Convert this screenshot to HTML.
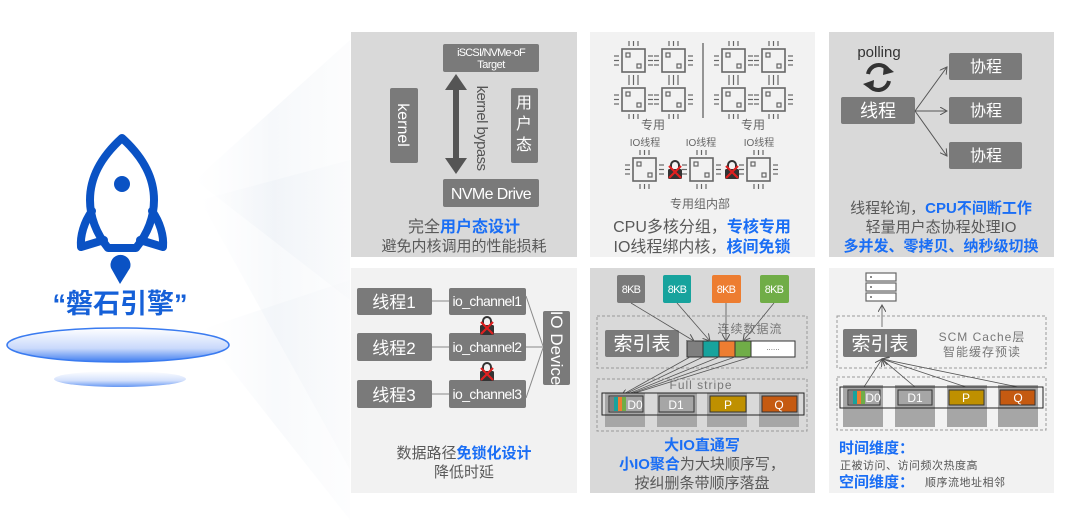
<!DOCTYPE html>
<html><head><meta charset="utf-8">
<style>
html,body{margin:0;padding:0;background:#fff;}
svg{display:block;font-family:"Liberation Sans","Noto Sans CJK SC",sans-serif;}
</style></head>
<body>
<svg width="1080" height="527" viewBox="0 0 1080 527" xmlns="http://www.w3.org/2000/svg">
<defs>
  <linearGradient id="beam" x1="0" y1="0" x2="1" y2="0">
    <stop offset="0" stop-color="#eef2f7" stop-opacity="0"/>
    <stop offset="0.5" stop-color="#e6ecf3" stop-opacity="0.9"/>
    <stop offset="1" stop-color="#f3f5f8" stop-opacity="0.6"/>
  </linearGradient>
  <linearGradient id="disc" x1="0" y1="0" x2="0" y2="1">
    <stop offset="0" stop-color="#ffffff"/>
    <stop offset="0.6" stop-color="#c9d9fb"/>
    <stop offset="1" stop-color="#3f7df0"/>
  </linearGradient>
  <g id="chip">
    <rect x="0" y="0" width="23" height="23" fill="none" stroke="#666" stroke-width="1.6"/>
    <rect x="4" y="4" width="4" height="4" fill="none" stroke="#666" stroke-width="1.2"/>
    <rect x="15" y="15" width="4" height="4" fill="none" stroke="#666" stroke-width="1.2"/>
    <g stroke="#666" stroke-width="1.2">
      <line x1="7" y1="-3" x2="7" y2="-8"/><line x1="11.5" y1="-3" x2="11.5" y2="-8"/><line x1="16" y1="-3" x2="16" y2="-8"/>
      <line x1="7" y1="26" x2="7" y2="31"/><line x1="11.5" y1="26" x2="11.5" y2="31"/><line x1="16" y1="26" x2="16" y2="31"/>
      <line x1="-3" y1="7" x2="-8" y2="7"/><line x1="-3" y1="11.5" x2="-8" y2="11.5"/><line x1="-3" y1="16" x2="-8" y2="16"/>
      <line x1="26" y1="7" x2="31" y2="7"/><line x1="26" y1="11.5" x2="31" y2="11.5"/><line x1="26" y1="16" x2="31" y2="16"/>
    </g>
  </g>
  <g id="lock">
    <path d="M-4,-1 v-4 a4,4 0 0 1 8,0 v4" fill="none" stroke="#333" stroke-width="2"/>
    <rect x="-7" y="-1" width="14" height="10" rx="1.5" fill="#333"/>
    <path d="M-6,-4 L6,8 M6,-4 L-6,8" stroke="#e02020" stroke-width="2.2"/>
  </g>
  <marker id="ah" markerWidth="8" markerHeight="8" refX="7" refY="4" orient="auto" markerUnits="userSpaceOnUse">
    <path d="M0,0 L7,4 L0,8" fill="none" stroke="#555" stroke-width="1"/>
  </marker>
</defs>

<!-- beams -->
<polygon points="195,180 350,40 350,300" fill="url(#beam)" opacity="0.4"/>
<polygon points="200,200 350,160 350,470" fill="url(#beam)" opacity="0.35"/>
<polygon points="200,330 350,280 350,520" fill="url(#beam)" opacity="0.3"/>

<!-- rocket -->
<g fill="none" stroke="#0a52c4" stroke-width="8" stroke-linejoin="round" stroke-linecap="round">
  <path d="M122,138 C100,158 90,178 90,200 C90,222 100,238 108,248 L136,248 C144,238 154,222 154,200 C154,178 144,158 122,138 Z"/>
  <path d="M92,211 C84,222 80,236 81,247 L104,240"/>
  <path d="M152,211 C160,222 164,236 163,247 L140,240"/>
</g>
<circle cx="122" cy="184" r="8" fill="#0a52c4"/>
<path d="M120,284 L111,268 A10,10 0 1 1 130,268 Z" fill="#0a52c4"/>
<text x="120" y="313" font-size="27" font-weight="bold" fill="#1560d8" text-anchor="middle">“磐石引擎”</text>
<ellipse cx="120" cy="379" rx="66" ry="8" fill="url(#disc)" opacity="0.8"/>
<ellipse cx="118" cy="345" rx="111" ry="17" fill="url(#disc)" stroke="#3a7bf0" stroke-width="1.5"/>

<!-- panels -->
<rect x="351" y="32" width="226" height="225" fill="#d9d9d9"/>
<rect x="590" y="32" width="225" height="225" fill="#f2f2f2"/>
<rect x="829" y="32" width="225" height="225" fill="#d9d9d9"/>
<rect x="351" y="268" width="226" height="225" fill="#f2f2f2"/>
<rect x="590" y="268" width="225" height="225" fill="#d9d9d9"/>
<rect x="829" y="268" width="225" height="225" fill="#f2f2f2"/>

<!-- P1 -->
<rect x="443" y="44" width="96" height="28" rx="2" fill="#7a7a7a"/>
<text x="491" y="56" font-size="11" fill="#fff" text-anchor="middle" letter-spacing="-0.8">iSCSI/NVMe-oF</text>
<text x="491" y="68" font-size="11" fill="#fff" text-anchor="middle" letter-spacing="-0.5">Target</text>
<rect x="390" y="88" width="28" height="75" rx="2" fill="#7a7a7a"/>
<text x="0" y="0" font-size="16" fill="#fff" text-anchor="middle" transform="translate(398,125) rotate(90)">kernel</text>
<rect x="511" y="88" width="27" height="75" rx="2" fill="#7a7a7a"/>
<text x="524" y="108" font-size="16" fill="#fff" text-anchor="middle">用</text>
<text x="524" y="129" font-size="16" fill="#fff" text-anchor="middle">户</text>
<text x="524" y="150" font-size="16" fill="#fff" text-anchor="middle">态</text>
<line x1="456" y1="86" x2="456" y2="162" stroke="#555" stroke-width="6"/>
<polygon points="445,90 456,74 467,90" fill="#555"/>
<polygon points="445,158 456,174 467,158" fill="#555"/>
<text x="0" y="0" font-size="15" fill="#555" text-anchor="middle" letter-spacing="-0.6" transform="translate(477,128) rotate(90)">kernel bypass</text>
<rect x="443" y="179" width="96" height="28" rx="2" fill="#7a7a7a"/>
<text x="491" y="199" font-size="16" fill="#fff" text-anchor="middle" letter-spacing="-0.6">NVMe Drive</text>
<text x="464" y="232" font-size="16" fill="#595959" text-anchor="middle">完全<tspan fill="#1a6ef5" font-weight="bold">用户态设计</tspan></text>
<text x="464" y="251" font-size="15" fill="#595959" text-anchor="middle">避免内核调用的性能损耗</text>

<!-- P2 -->
<use href="#chip" x="622" y="49"/><use href="#chip" x="662" y="49"/>
<use href="#chip" x="622" y="88"/><use href="#chip" x="662" y="88"/>
<use href="#chip" x="722" y="49"/><use href="#chip" x="762" y="49"/>
<use href="#chip" x="722" y="88"/><use href="#chip" x="762" y="88"/>
<line x1="703" y1="43" x2="703" y2="118" stroke="#555" stroke-width="1.2"/>
<text x="653" y="129" font-size="12" fill="#666" text-anchor="middle">专用</text>
<text x="753" y="129" font-size="12" fill="#666" text-anchor="middle">专用</text>
<text x="645" y="146" font-size="10" fill="#666" text-anchor="middle">IO线程</text>
<text x="701" y="146" font-size="10" fill="#666" text-anchor="middle">IO线程</text>
<text x="759" y="146" font-size="10" fill="#666" text-anchor="middle">IO线程</text>
<use href="#chip" x="633" y="158"/><use href="#chip" x="690" y="158"/><use href="#chip" x="747" y="158"/>
<use href="#lock" x="675" y="170"/><use href="#lock" x="732" y="170"/>
<text x="700" y="208" font-size="12" fill="#666" text-anchor="middle">专用组内部</text>
<text x="702" y="232" font-size="16" fill="#595959" text-anchor="middle">CPU多核分组，<tspan fill="#1a6ef5" font-weight="bold">专核专用</tspan></text>
<text x="702" y="252" font-size="16" fill="#595959" text-anchor="middle">IO线程绑内核，<tspan fill="#1a6ef5" font-weight="bold">核间免锁</tspan></text>

<!-- P3 -->
<text x="879" y="57" font-size="15" fill="#333" text-anchor="middle">polling</text>
<g fill="none" stroke="#333" stroke-width="4">
  <path d="M868,74 A11,11 0 0 1 888,70"/>
  <path d="M889,81 A11,11 0 0 1 869,85"/>
</g>
<polygon points="884,64 894,72 883,75" fill="#333"/>
<polygon points="873,91 863,84 874,80" fill="#333"/>
<rect x="841" y="97" width="74" height="27" rx="2" fill="#7a7a7a"/>
<text x="878" y="117" font-size="18" fill="#fff" text-anchor="middle">线程</text>
<rect x="949" y="53" width="73" height="27" rx="2" fill="#7a7a7a"/>
<rect x="949" y="97" width="73" height="27" rx="2" fill="#7a7a7a"/>
<rect x="949" y="142" width="73" height="27" rx="2" fill="#7a7a7a"/>
<text x="986" y="72" font-size="16" fill="#fff" text-anchor="middle">协程</text>
<text x="986" y="116" font-size="16" fill="#fff" text-anchor="middle">协程</text>
<text x="986" y="161" font-size="16" fill="#fff" text-anchor="middle">协程</text>
<g stroke="#555" stroke-width="1" marker-end="url(#ah)">
  <line x1="915" y1="111" x2="947" y2="67"/>
  <line x1="915" y1="111" x2="947" y2="111"/>
  <line x1="915" y1="111" x2="947" y2="156"/>
</g>
<text x="941" y="213" font-size="15" fill="#595959" text-anchor="middle">线程轮询，<tspan fill="#1a6ef5" font-weight="bold">CPU不间断工作</tspan></text>
<text x="941" y="232" font-size="15" fill="#595959" text-anchor="middle">轻量用户态协程处理IO</text>
<text x="941" y="251" font-size="15" fill="#1a6ef5" font-weight="bold" text-anchor="middle">多并发、零拷贝、纳秒级切换</text>

<!-- P4 -->
<g fill="#7a7a7a">
  <rect x="357" y="288" width="75" height="27" rx="2"/><rect x="357" y="333" width="75" height="28" rx="2"/><rect x="357" y="380" width="75" height="28" rx="2"/>
  <rect x="449" y="288" width="77" height="27" rx="2"/><rect x="449" y="333" width="77" height="28" rx="2"/><rect x="449" y="380" width="77" height="28" rx="2"/>
  <rect x="543" y="311" width="27" height="74" rx="2"/>
</g>
<g stroke="#888" stroke-width="1">
  <line x1="432" y1="301" x2="449" y2="301"/><line x1="432" y1="347" x2="449" y2="347"/><line x1="432" y1="394" x2="449" y2="394"/>
  <line x1="526" y1="296" x2="543" y2="346"/><line x1="526" y1="347" x2="543" y2="347"/><line x1="526" y1="398" x2="543" y2="348"/>
</g>
<g font-size="17" fill="#fff" text-anchor="middle">
  <text x="394" y="308">线程1</text><text x="394" y="354">线程2</text><text x="394" y="401">线程3</text>
</g>
<g font-size="14" fill="#fff" text-anchor="middle" letter-spacing="-0.6">
  <text x="487" y="306">io_channel1</text><text x="487" y="352">io_channel2</text><text x="487" y="399">io_channel3</text>
</g>
<text x="0" y="0" font-size="17" fill="#fff" text-anchor="middle" transform="translate(551,348) rotate(90)">IO Device</text>
<use href="#lock" x="487" y="326"/><use href="#lock" x="487" y="372"/>
<text x="464" y="458" font-size="15" fill="#595959" text-anchor="middle">数据路径<tspan fill="#1a6ef5" font-weight="bold">免锁化设计</tspan></text>
<text x="464" y="477" font-size="15" fill="#595959" text-anchor="middle">降低时延</text>

<!-- P5 -->
<rect x="617" y="275" width="28" height="28" rx="2" fill="#7a7a7a"/>
<rect x="663" y="275" width="28" height="28" rx="2" fill="#17a39d"/>
<rect x="712" y="275" width="29" height="28" rx="2" fill="#ed7d31"/>
<rect x="760" y="275" width="29" height="28" rx="2" fill="#70ad47"/>
<g font-size="11" fill="#fff" text-anchor="middle" letter-spacing="-0.8">
  <text x="631" y="293">8KB</text><text x="677" y="293">8KB</text><text x="726" y="293">8KB</text><text x="774" y="293">8KB</text>
</g>
<rect x="597" y="316" width="210" height="52" fill="none" stroke="#999" stroke-dasharray="3,2"/>
<rect x="605" y="330" width="74" height="27" rx="2" fill="#7a7a7a"/>
<text x="642" y="350" font-size="19" fill="#fff" text-anchor="middle">索引表</text>
<text x="750" y="333" font-size="12" fill="#777" text-anchor="middle" letter-spacing="1">连续数据流</text>
<rect x="687" y="341" width="108" height="16" fill="#fff" stroke="#333"/>
<rect x="687" y="341" width="16" height="16" fill="#7f7f7f" stroke="#333"/>
<rect x="703" y="341" width="16" height="16" fill="#17a39d" stroke="#333"/>
<rect x="719" y="341" width="16" height="16" fill="#ed7d31" stroke="#333"/>
<rect x="735" y="341" width="16" height="16" fill="#70ad47" stroke="#333"/>
<text x="773" y="350" font-size="8" fill="#666" text-anchor="middle">......</text>
<g stroke="#555" stroke-width="0.8" marker-end="url(#ah)">
  <line x1="631" y1="303" x2="694" y2="341"/>
  <line x1="677" y1="303" x2="710" y2="341"/>
  <line x1="726" y1="303" x2="726" y2="341"/>
  <line x1="774" y1="303" x2="743" y2="341"/>
  <line x1="703" y1="357" x2="621" y2="396"/>
</g>
<g stroke="#555" stroke-width="0.8">
  <line x1="719" y1="357" x2="623" y2="396"/><line x1="735" y1="357" x2="624" y2="396"/><line x1="751" y1="357" x2="625" y2="396"/><line x1="690" y1="357" x2="620" y2="396"/>
</g>
<rect x="597" y="379" width="210" height="52" fill="none" stroke="#999" stroke-dasharray="3,2"/>
<text x="701" y="389" font-size="12" fill="#777" text-anchor="middle" letter-spacing="1">Full stripe</text>
<g fill="#a6a6a6">
  <rect x="605" y="393" width="40" height="34"/><rect x="657" y="393" width="40" height="34"/><rect x="707" y="393" width="40" height="34"/><rect x="759" y="393" width="40" height="34"/>
</g>
<rect x="602" y="393" width="202" height="22" fill="none" stroke="#222" stroke-width="1"/>
<rect x="609" y="396" width="34" height="16" fill="#a6a6a6" stroke="#333"/>
<rect x="610" y="397" width="4" height="14" fill="#7f7f7f"/><rect x="614" y="397" width="4" height="14" fill="#17a39d"/><rect x="618" y="397" width="4" height="14" fill="#ed7d31"/><rect x="622" y="397" width="4" height="14" fill="#70ad47"/>
<text x="635" y="409" font-size="12" fill="#fff" text-anchor="middle">D0</text>
<rect x="659" y="396" width="35" height="16" fill="#a6a6a6" stroke="#333"/>
<text x="676" y="409" font-size="12" fill="#fff" text-anchor="middle">D1</text>
<rect x="710" y="396" width="36" height="16" fill="#bf9000" stroke="#333"/>
<text x="728" y="409" font-size="12" fill="#fff" text-anchor="middle">P</text>
<rect x="762" y="396" width="35" height="16" fill="#c55a11" stroke="#333"/>
<text x="779" y="409" font-size="12" fill="#fff" text-anchor="middle">Q</text>
<text x="702" y="450" font-size="15" fill="#1a6ef5" font-weight="bold" text-anchor="middle">大IO直通写</text>
<text x="702" y="469" font-size="15" fill="#595959" text-anchor="middle"><tspan fill="#1a6ef5" font-weight="bold">小IO聚合</tspan>为大块顺序写，</text>
<text x="702" y="488" font-size="15" fill="#595959" text-anchor="middle">按纠删条带顺序落盘</text>

<!-- P6 -->
<g fill="#fff" stroke="#666" stroke-width="1.2">
  <rect x="866" y="273" width="30" height="8"/><rect x="866" y="283" width="30" height="8"/><rect x="866" y="293" width="30" height="8"/>
</g>
<g fill="#666"><circle cx="871" cy="277" r="1"/><circle cx="871" cy="287" r="1"/><circle cx="871" cy="297" r="1"/></g>
<line x1="882" y1="327" x2="882" y2="305" stroke="#777" stroke-width="1" marker-end="url(#ah)"/>
<rect x="837" y="316" width="209" height="52" fill="none" stroke="#999" stroke-dasharray="3,2"/>
<rect x="843" y="329" width="74" height="28" rx="2" fill="#7a7a7a"/>
<text x="880" y="350" font-size="19" fill="#fff" text-anchor="middle">索引表</text>
<text x="982" y="341" font-size="12" fill="#777" text-anchor="middle" letter-spacing="1">SCM Cache层</text>
<text x="982" y="356" font-size="12" fill="#777" text-anchor="middle" letter-spacing="1">智能缓存预读</text>
<rect x="837" y="377" width="209" height="53" fill="none" stroke="#999" stroke-dasharray="3,2"/>
<g fill="#a6a6a6">
  <rect x="843" y="385" width="40" height="42"/><rect x="895" y="385" width="40" height="42"/><rect x="947" y="385" width="40" height="42"/><rect x="998" y="385" width="40" height="42"/>
</g>
<g stroke="#555" stroke-width="0.8" marker-end="url(#ah)">
  <line x1="864" y1="387" x2="882" y2="359"/><line x1="915" y1="387" x2="882" y2="359"/><line x1="966" y1="387" x2="882" y2="359"/><line x1="1018" y1="387" x2="882" y2="359"/>
</g>
<rect x="840" y="387" width="203" height="21" fill="none" stroke="#222" stroke-width="1"/>
<rect x="848" y="390" width="32" height="15" fill="#a6a6a6" stroke="#333"/>
<rect x="849" y="391" width="4" height="13" fill="#7f7f7f"/><rect x="853" y="391" width="4" height="13" fill="#17a39d"/><rect x="857" y="391" width="4" height="13" fill="#ed7d31"/><rect x="861" y="391" width="4" height="13" fill="#70ad47"/>
<text x="873" y="402" font-size="12" fill="#fff" text-anchor="middle">D0</text>
<rect x="898" y="390" width="34" height="15" fill="#a6a6a6" stroke="#333"/>
<text x="915" y="402" font-size="12" fill="#fff" text-anchor="middle">D1</text>
<rect x="949" y="390" width="35" height="15" fill="#bf9000" stroke="#333"/>
<text x="966" y="402" font-size="12" fill="#fff" text-anchor="middle">P</text>
<rect x="1000" y="390" width="35" height="15" fill="#c55a11" stroke="#333"/>
<text x="1018" y="402" font-size="12" fill="#fff" text-anchor="middle">Q</text>
<text x="839" y="453" font-size="15" fill="#1a6ef5" font-weight="bold">时间维度：</text>
<text x="840" y="469" font-size="11" fill="#555" letter-spacing="0.5">正被访问、访问频次热度高</text>
<text x="839" y="487" font-size="15" fill="#1a6ef5" font-weight="bold">空间维度：</text>
<text x="925" y="486" font-size="11" fill="#555" letter-spacing="0.5">顺序流地址相邻</text>
</svg>
</body></html>
